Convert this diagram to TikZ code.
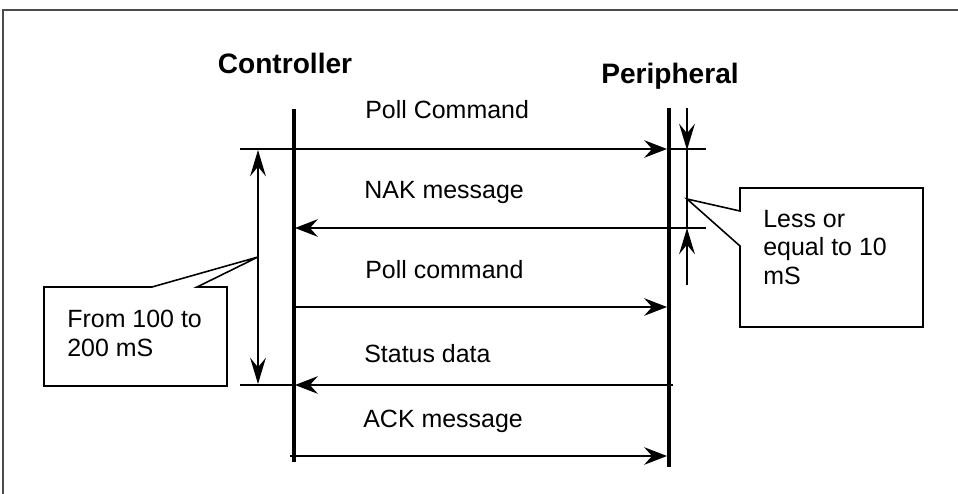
\documentclass[tikz,border=0pt]{standalone}
\usepackage{fontspec}
\setmainfont{Liberation Sans}
\usetikzlibrary{arrows.meta}
\tikzstyle{lifeline} = [line width=1.9pt]
\tikzstyle{msg} = [line width=1pt, -{Stealth[length=13pt,width=10pt,inset=4.5pt]}]
\tikzstyle{dimline} = [line width=0.75pt, >={Stealth[length=15pt,width=9pt,inset=5.5pt]}]
\tikzstyle{notebox} = [line width=0.9pt, line join=miter]
\tikzstyle{actor} = [font=\fontsize{16}{19}\selectfont\bfseries, inner sep=0pt, anchor=base]
\tikzstyle{msglabel} = [font=\fontsize{14.2}{16}\selectfont, inner sep=0pt, anchor=base west]
\tikzstyle{notetext} = [font=\fontsize{14.2}{16.2}\selectfont, inner sep=0pt, anchor=north west, align=left]

\begin{document}
\begin{tikzpicture}[x=0.02cm, y=-0.02cm]
        \useasboundingbox (0,0) rectangle (958,494);
        % outer frame (runs off the page on the right and bottom)
        \draw[line width=0.8pt, black!70] (958,10) -- (3,10) -- (3,494);

        \node(ctrl) [actor] at (285,73) {Controller};
        \node(peri) [actor] at (670,83) {Peripheral};

        % lifelines
        \coordinate (ctrltop) at (294,109);
        \coordinate (ctrlbot) at (294,462);
        \coordinate (peritop) at (669,108);
        \coordinate (peribot) at (669,467);
        \draw [lifeline] (ctrltop)--(ctrlbot);
        \draw [lifeline, line width=2.8pt] (peritop)--(peribot);

        % message end points
        \coordinate (ext1l) at (240,149);
        \coordinate (m1p) at (667,149);
        \coordinate (ext1r) at (706,149);
        \coordinate (ext2r) at (706,228);
        \coordinate (m2c) at (295,228);
        \coordinate (m3c) at (294,307);
        \coordinate (m3p) at (667,307);
        \coordinate (m4p) at (673,385);
        \coordinate (m4c) at (295,385);
        \coordinate (ext4l) at (240,385);
        \coordinate (m5c) at (290,456);
        \coordinate (m5p) at (667,456);

        \draw [msg] (ext1l)--(m1p);
        \draw [dimline] (m1p)--(ext1r);
        \draw [msg] (ext2r)--(m2c);
        \draw [msg] (m3c)--(m3p);
        \draw [msg] (m4p)--(m4c);
        \draw [dimline, line width=1pt] (ext4l)--(m4c);
        \draw [msg] (m5c)--(m5p);

        \node(pollcmd) [msglabel] at (365,118) {Poll Command};
        \node(nakmsg) [msglabel] at (364,198) {NAK message};
        \node(pollagain) [msglabel] at (365,278) {Poll command};
        \node(status) [msglabel] at (364,362) {Status data};
        \node(ackmsg) [msglabel] at (363,427) {ACK message};

        % timing spans
        \coordinate (spantop) at (258,150);
        \coordinate (spanbot) at (258,384);
        \draw [dimline, <->] (spantop)--(spanbot);
        \coordinate (gaptop) at (687,108);
        \coordinate (gapmid1) at (687,150);
        \coordinate (gapmid2) at (687,228);
        \coordinate (gapbot) at (687,285);
        \draw [dimline, ->] (gaptop)--(gapmid1);
        \draw [dimline] (gapmid1)--(gapmid2);
        \draw [dimline, ->] (gapbot)--(gapmid2);

        % callouts
        \coordinate (spantip) at (258,257);
        \coordinate (gaptip) at (687,199);
        \draw [notebox] (44,287)--(152,287)--(spantip)--(197,287)--(227,287)--(227,386)--(44,386)--cycle;
        \draw [notebox] (740,211)--(740,188)--(923,188)--(923,327)--(740,327)--(740,246)--(gaptip)--cycle;
        \node(spannote) [notetext] at (67,310) {From 100 to\\200 mS};
        \node(gapnote) [notetext] at (763,210) {Less or\\equal to 10\\mS};
\end{tikzpicture}
\end{document}
